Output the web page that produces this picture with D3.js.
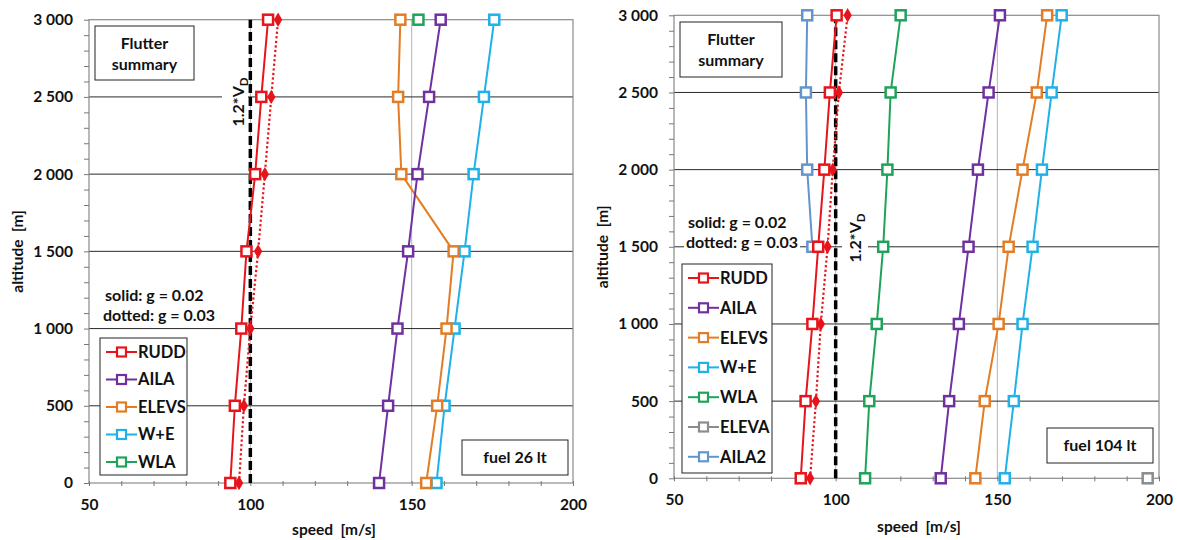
<!DOCTYPE html>
<html>
<head>
<meta charset="utf-8">
<script src="https://cdn.jsdelivr.net/npm/d3@7/dist/d3.min.js"></script>
<style>
  body { margin: 0; background: #fff; }
  svg text { font-family: Lato, "Open Sans", sans-serif; font-weight: bold; fill: #111; white-space: pre; }
</style>
</head>
<body>
<div id="chart"></div>
<script>
// Flutter summary, two fuel states
// Speeds (m/s), one value per altitude

var altitudes = [0, 500, 1000, 1500, 2000, 2500, 3000];
var altTicks = [0, 500, 1000, 1500, 2000, 2500, 3000];
var speedTicks = [50, 100, 150, 200];
var vdLine = [100, 100];          // 1.2*VD, same at 0 and 3000 m

var seriesNames  = ["RUDD", "AILA", "ELEVS", "W+E", "WLA", "ELEVA", "AILA2"];
var seriesColors = ["#e8141c", "#7030a0", "#e37d25", "#1fb1e8", "#1fa35a", "#8c8c8c", "#6494cc"];

// fuel 26 lt
var rudd26       = [93.8, 95.2, 97.2, 98.8, 101.5, 103.4, 105.5];
var rudd26Dotted = [96.5, 98.0, 100.0, 102.4, 104.5, 106.5, 108.6];
var aila26       = [139.9, 142.7, 145.6, 148.9, 151.8, 155.4, 159.0];
var elevs26      = [154.5, 157.9, 160.8, 163.0, 146.8, 145.8, 146.5];
var we26         = [157.7, 160.2, 163.3, 166.4, 169.2, 172.4, 175.6];
var wla26        = [null, null, null, null, null, null, 152.1];

// fuel 104 lt
var rudd104       = [89.2, 90.7, 92.8, 94.6, 96.5, 98.2, 100.3];
var rudd104Dotted = [92.1, 93.9, 95.4, 97.5, 99.1, 101.0, 103.7];
var aila104       = [132.5, 135.1, 138.1, 141.1, 144.0, 147.3, 150.8];
var elevs104      = [143.2, 146.1, 150.4, 153.5, 157.8, 162.2, 165.4];
var we104         = [152.3, 155.1, 157.8, 160.9, 163.8, 166.8, 169.9];
var wla104        = [109.1, 110.4, 112.7, 114.7, 116.0, 117.0, 120.1];
var eleva104      = [196.5, null, null, null, null, null, null];
var aila2_104     = [null, null, null, 92.8, 91.2, 90.8, 91.2];

var W = 1177, H = 540;

var svg = d3.select("#chart").append("svg")
    .attr("width", W)
    .attr("height", H);

// thousands with a space: "3 000"
var fmt = d3.formatLocale({decimal: ".", thousands: " ", grouping: [3], currency: ["", ""]}).format(",");

// Panel layouts (pixel boxes of each plot area and of the annotation boxes)
var panels = [
  {
    left: 89, right: 573, top: 19.7, bottom: 483,
    series: [rudd26, aila26, elevs26, we26, wla26],
    dotted: rudd26Dotted,
    legendCount: 5,
    legendBox: {x: 100, y: 338, w: 87, h: 137, step: 27.5},
    summaryBox: {x: 95, y: 26, w: 99, h: 54},
    fuelBox: {x: 462, y: 440, w: 106, h: 35},
    fuelText: "fuel 26 lt",
    gText: {x: 105, y: 301, w: 118, h: 44},
    vdLabel: {x: 238, y: 102, rx: 222, rw: 26},
    yTitle: 18,
    xTitle: {x: 334, y: 535}
  },
  {
    left: 674, right: 1159, top: 15.3, bottom: 478.3,
    series: [rudd104, aila104, elevs104, we104, wla104, eleva104, aila2_104],
    dotted: rudd104Dotted,
    legendCount: 7,
    legendBox: {x: 682, y: 264, w: 90, h: 209, step: 29.8},
    summaryBox: {x: 680, y: 22, w: 102, h: 55},
    fuelBox: {x: 1047, y: 428, w: 106, h: 35},
    fuelText: "fuel 104 lt",
    gText: {x: 688, y: 228, w: 116, h: 44},
    vdLabel: {x: 855, y: 238, rx: 842, rw: 26},
    yTitle: 603,
    xTitle: {x: 919, y: 532}
  }
];

panels.forEach(function (p) {
  var g = svg.append("g");

  var x = d3.scaleLinear().domain([50, 200]).range([p.left, p.right]);
  var y = d3.scaleLinear().domain([0, 3000]).range([p.bottom, p.top]);

  // vertical gridlines
  g.selectAll(".vgrid").data([100, 150]).enter().append("line")
      .attr("x1", function (d) { return x(d); })
      .attr("x2", function (d) { return x(d); })
      .attr("y1", y(0)).attr("y2", y(3000))
      .attr("stroke", "#b4b4b4").attr("stroke-width", 1);

  // horizontal gridlines
  g.selectAll(".hgrid").data(altTicks.slice(1, -1)).enter().append("line")
      .attr("x1", x(50)).attr("x2", x(200))
      .attr("y1", function (d) { return y(d); })
      .attr("y2", function (d) { return y(d); })
      .attr("stroke", "#2a2a2a").attr("stroke-width", 1);

  // plot frame
  g.append("rect")
      .attr("x", x(50)).attr("y", y(3000))
      .attr("width", x(200) - x(50)).attr("height", y(0) - y(3000))
      .attr("fill", "none").attr("stroke", "#8a8a8a").attr("stroke-width", 1.2);

  // minor ticks
  var yMinor = d3.axisLeft(y).tickValues(d3.range(0, 3001, 100)).tickSize(5).tickFormat("");
  g.append("g").attr("transform", "translate(" + x(50) + ",0)").call(yMinor)
      .call(function (a) { a.select(".domain").remove(); a.selectAll("line").attr("stroke", "#777"); });

  var xMinor = d3.axisBottom(x).tickValues(d3.range(50, 201, 10)).tickSize(5).tickFormat("");
  g.append("g").attr("transform", "translate(0," + (y(0) - 2) + ")").call(xMinor)
      .call(function (a) { a.select(".domain").remove(); a.selectAll("line").attr("stroke", "#777"); });

  // tick labels
  var yAxis = d3.axisLeft(y).tickValues(altTicks).tickSize(0).tickPadding(16).tickFormat(fmt);
  g.append("g").attr("transform", "translate(" + x(50) + ",0)").call(yAxis)
      .call(function (a) {
        a.select(".domain").remove();
        a.selectAll("text").style("font-size", "15.5px").style("font-family", "Lato, sans-serif");
      });

  var xAxis = d3.axisBottom(x).tickValues(speedTicks).tickSize(0).tickPadding(16);
  g.append("g").attr("transform", "translate(0," + y(0) + ")").call(xAxis)
      .call(function (a) {
        a.select(".domain").remove();
        a.selectAll("text").style("font-size", "15.5px").style("font-family", "Lato, sans-serif");
      });

  // axis titles
  g.append("text")
      .attr("transform", "translate(" + p.yTitle + "," + ((y(0) + y(3000)) / 2) + ") rotate(-90)")
      .attr("text-anchor", "middle").attr("dy", "0.35em")
      .style("font-size", "15.5px")
      .text("altitude  [m]");

  g.append("text")
      .attr("x", p.xTitle.x).attr("y", p.xTitle.y)
      .attr("text-anchor", "middle")
      .style("font-size", "15.5px")
      .text("speed  [m/s]");

  // text block "solid / dotted" (white background cuts the gridline)
  g.append("rect")
      .attr("x", p.gText.x - 4).attr("y", p.gText.y - 18)
      .attr("width", p.gText.w).attr("height", p.gText.h)
      .attr("fill", "#fff");
  g.append("text").attr("x", p.gText.x).attr("y", p.gText.y)
      .style("font-size", "16px").text("solid: g = 0.02");
  g.append("text").attr("x", p.gText.x - 2).attr("y", p.gText.y + 20)
      .style("font-size", "16px").text("dotted: g = 0.03");

  // 1.2*VD label
  g.append("rect")
      .attr("x", p.vdLabel.rx).attr("y", p.vdLabel.y - 31)
      .attr("width", p.vdLabel.rw).attr("height", 62)
      .attr("fill", "#fff");
  var vd = g.append("text")
      .attr("transform", "translate(" + (p.vdLabel.x + 6) + "," + p.vdLabel.y + ") rotate(-90)")
      .attr("text-anchor", "middle")
      .style("font-size", "16px");
  vd.append("tspan").text("1.2*V");
  vd.append("tspan").attr("dy", 4).style("font-size", "11.5px").text("D");

  // 1.2*VD dashed line
  var line = d3.line()
      .defined(function (d) { return d[0] != null; })
      .x(function (d) { return x(d[0]); })
      .y(function (d) { return y(d[1]); });

  g.append("path")
      .datum(vdLine.map(function (v, i) { return [v, i === 0 ? 0 : 3000]; }))
      .attr("d", line)
      .attr("fill", "none").attr("stroke", "#000")
      .attr("stroke-width", 3.5).attr("stroke-dasharray", "9,4");

  // dotted RUDD (g = 0.03)
  var dottedPts = p.dotted.map(function (v, i) { return [v, altitudes[i]]; });
  g.append("path").datum(dottedPts).attr("d", line)
      .attr("fill", "none").attr("stroke", seriesColors[0])
      .attr("stroke-width", 2.2).attr("stroke-dasharray", "2.2,2.4");
  g.selectAll(".diamond").data(dottedPts).enter().append("path")
      .attr("d", d3.symbol().type(d3.symbolDiamond).size(60))
      .attr("transform", function (d) { return "translate(" + x(d[0]) + "," + y(d[1]) + ")"; })
      .attr("fill", seriesColors[0]);

  // solid series (drawn in reverse so RUDD is on top)
  for (var s = p.series.length - 1; s >= 0; s--) {
    var pts = p.series[s].map(function (v, i) { return [v, altitudes[i]]; });
    var col = seriesColors[s];
    g.append("path").datum(pts).attr("d", line)
        .attr("fill", "none").attr("stroke", col).attr("stroke-width", 2);
    g.selectAll(".m" + s).data(pts.filter(function (d) { return d[0] != null; }))
        .enter().append("rect")
        .attr("class", "m" + s)
        .attr("x", function (d) { return x(d[0]) - 5; })
        .attr("y", function (d) { return y(d[1]) - 5; })
        .attr("width", 10).attr("height", 10)
        .attr("fill", "#fff").attr("stroke", col).attr("stroke-width", 2.5);
  }

  // Flutter summary box
  var sb = p.summaryBox;
  g.append("rect").attr("x", sb.x).attr("y", sb.y).attr("width", sb.w).attr("height", sb.h)
      .attr("fill", "#fff").attr("stroke", "#222").attr("stroke-width", 1);
  g.append("text").attr("x", sb.x + sb.w / 2).attr("y", sb.y + 23)
      .attr("text-anchor", "middle").style("font-size", "16px").text("Flutter");
  g.append("text").attr("x", sb.x + sb.w / 2).attr("y", sb.y + 44)
      .attr("text-anchor", "middle").style("font-size", "16px").text("summary");

  // fuel box
  var fb = p.fuelBox;
  g.append("rect").attr("x", fb.x).attr("y", fb.y).attr("width", fb.w).attr("height", fb.h)
      .attr("fill", "#fff").attr("stroke", "#222").attr("stroke-width", 1);
  g.append("text").attr("x", fb.x + fb.w / 2).attr("y", fb.y + 23)
      .attr("text-anchor", "middle").style("font-size", "16px").text(p.fuelText);

  // legend
  var lb = p.legendBox;
  g.append("rect").attr("x", lb.x).attr("y", lb.y).attr("width", lb.w).attr("height", lb.h)
      .attr("fill", "#fff").attr("stroke", "#222").attr("stroke-width", 1);
  var items = g.selectAll(".leg").data(seriesNames.slice(0, p.legendCount)).enter().append("g")
      .attr("transform", function (d, i) { return "translate(" + (lb.x + 6) + "," + (lb.y + 14 + i * lb.step) + ")"; });
  items.append("line").attr("x1", 0).attr("x2", 31).attr("y1", 0).attr("y2", 0)
      .attr("stroke", function (d, i) { return seriesColors[i]; }).attr("stroke-width", 2);
  items.append("rect").attr("x", 11).attr("y", -4.5).attr("width", 9).attr("height", 9)
      .attr("fill", "#fff").attr("stroke", function (d, i) { return seriesColors[i]; }).attr("stroke-width", 2.2);
  items.append("text").attr("x", 32).attr("dy", "0.36em")
      .style("font-size", "16.5px").text(function (d) { return d; });
});
</script>
</body>
</html>
